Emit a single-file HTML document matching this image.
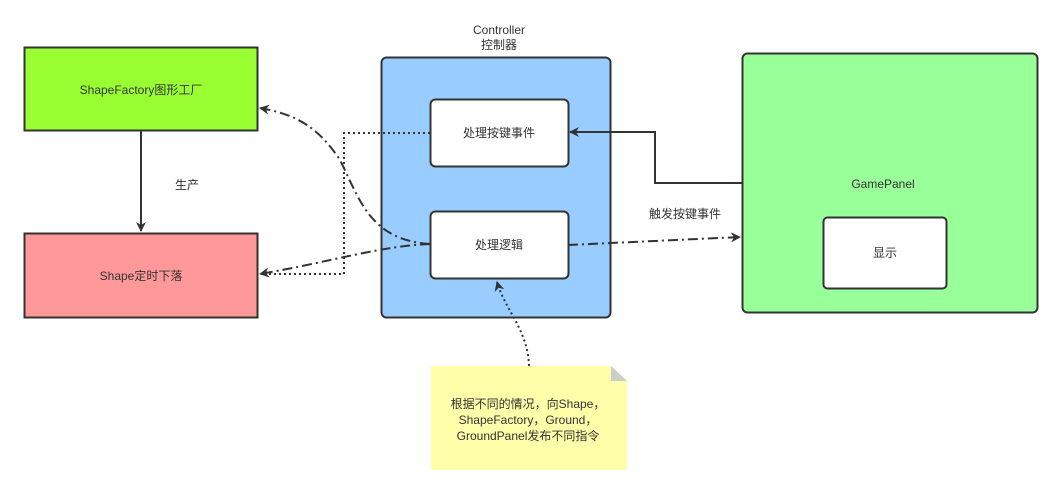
<!DOCTYPE html>
<html><head><meta charset="utf-8"><style>
body{margin:0;background:#fff;}
svg text{font-family:"Liberation Sans","Noto Sans CJK SC",sans-serif;font-size:12px;fill:#333;}
</style></head><body>
<svg width="1062" height="497" xmlns="http://www.w3.org/2000/svg">
<defs><marker id="a" markerWidth="10" markerHeight="10" refX="9" refY="5" orient="auto" markerUnits="userSpaceOnUse"><path d="M0,0 L10,5 L0,10 L3,5 Z" fill="#333"/></marker></defs>
<rect x="24.5" y="47.5" width="233" height="83" fill="#99ff33" stroke="#333" stroke-width="2"/>
<text x="141" y="94" text-anchor="middle">ShapeFactory图形工厂</text>
<rect x="24.5" y="233.5" width="233" height="84" fill="#ff9999" stroke="#333" stroke-width="2"/>
<text x="141" y="280" text-anchor="middle">Shape定时下落</text>
<line x1="141" y1="131" x2="141" y2="231" stroke="#333" stroke-width="2" marker-end="url(#a)"/>
<text x="187" y="189" text-anchor="middle">生产</text>
<text x="499" y="34" text-anchor="middle">Controller</text>
<text x="499" y="49" text-anchor="middle">控制器</text>
<rect x="381.5" y="57.5" width="229" height="260" rx="5" fill="#99ccff" stroke="#333" stroke-width="2"/>
<rect x="430.5" y="99.5" width="138" height="67" rx="5" fill="#fff" stroke="#333" stroke-width="2"/>
<text x="499" y="137" text-anchor="middle">处理按键事件</text>
<rect x="430.5" y="211.5" width="138" height="67" rx="5" fill="#fff" stroke="#333" stroke-width="2"/>
<text x="499" y="249" text-anchor="middle">处理逻辑</text>
<rect x="742.5" y="53.5" width="295" height="259" rx="5" fill="#99ff99" stroke="#333" stroke-width="2"/>
<text x="883" y="188" text-anchor="middle">GamePanel</text>
<rect x="823.5" y="217.5" width="123" height="71" rx="4" fill="#fff" stroke="#333" stroke-width="2"/>
<text x="885" y="257" text-anchor="middle">显示</text>
<polyline points="742,183 655,183 655,132 570,132" fill="none" stroke="#333" stroke-width="2" marker-end="url(#a)"/>
<text x="685" y="218" text-anchor="middle">触发按键事件</text>
<path d="M568,245 L740,237" fill="none" stroke="#333" stroke-width="2" stroke-dasharray="10,4,2,4" marker-end="url(#a)"/>
<polyline points="430,133 344,133 344,274 262,274" fill="none" stroke="#333" stroke-width="2" stroke-dasharray="2,3"/>
<path d="M430,244 C380,246 330,262 260,274" fill="none" stroke="#333" stroke-width="2" stroke-dasharray="10,4,2,4" marker-end="url(#a)"/>
<path d="M430,244 C370,240 360,200 340,160 C320,130 300,115 260,108" fill="none" stroke="#333" stroke-width="2" stroke-dasharray="10,4,2,4" marker-end="url(#a)"/>
<path d="M431,366 L611,366 L627,381 L627,470 L431,470 Z" fill="#ffffaa"/>
<path d="M611,366 L627,381 L611,381 Z" fill="#cccccc"/>
<path d="M529,366 C528,330 505,310 497,282" fill="none" stroke="#333" stroke-width="2" stroke-dasharray="2,3" marker-end="url(#a)"/>
<text x="528" y="408" text-anchor="middle">根据不同的情况，向Shape，</text>
<text x="528" y="424" text-anchor="middle">ShapeFactory，Ground，</text>
<text x="528" y="440" text-anchor="middle">GroundPanel发布不同指令</text>
</svg>
</body></html>
